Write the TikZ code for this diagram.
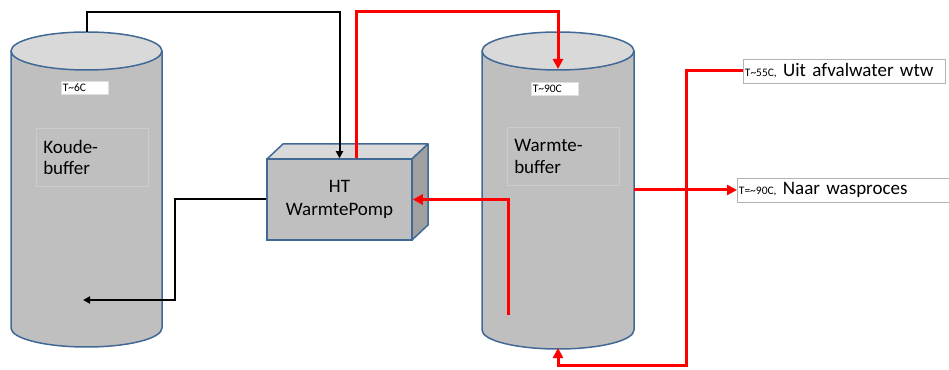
\documentclass[tikz,border=0pt]{standalone}
\usepackage{fontspec}
\setmainfont{Carlito}
\usetikzlibrary{arrows.meta,calc}

\definecolor{tankblue}{RGB}{65,105,150}
\definecolor{tankgray}{RGB}{191,191,191}
\definecolor{tanktop}{RGB}{217,217,217}
\definecolor{pumpside}{RGB}{160,160,160}
\definecolor{pipered}{RGB}{255,0,0}

\newcommand{\tsmall}[1]{{\fontsize{11.5}{13}\selectfont #1}}

\begin{document}
\begin{tikzpicture}[x=1pt, y=1pt,
  tank/.style={fill=tankgray, draw=tankblue, line width=1.5pt},
  tanklid/.style={fill=tanktop, draw=tankblue, line width=1.5pt},
  tempbox/.style={fill=white, draw=gray!25, line width=0.5pt, anchor=west, align=left,
    font=\fontsize{11.5}{13}\selectfont, inner xsep=1.5pt, inner ysep=0pt, text width=44pt, minimum height=13pt},
  namebox/.style={draw=tankgray!80!white, line width=0.5pt, anchor=north west, align=left,
    font=\fontsize{19}{21.5}\selectfont, inner xsep=7pt, inner ysep=8pt, text width=98pt, minimum height=58pt},
  flowbox/.style={fill=white, draw=gray!60, line width=0.8pt, anchor=west, align=left,
    font=\fontsize{19}{21}\selectfont, inner xsep=1.5pt, inner ysep=0pt, minimum height=24pt},
  coldpipe/.style={draw=black, line width=2pt, -{Triangle[length=7pt,width=7pt]}},
  hotpipe/.style={draw=pipered, line width=3pt, -{Triangle[length=10pt,width=10pt]}}
]
  \useasboundingbox (0,0) rectangle (949,369);

  % Koudebuffer (left tank)
  \draw[tank] (11,318) -- (11,41) arc[start angle=180, end angle=360, x radius=75.5, y radius=19] -- (162,318);
  \draw[tanklid] (86.5,318) ellipse[x radius=75.5, y radius=19];
  \node[tempbox] (kt) at (61,281.5) {T\textasciitilde6C};
  \node[namebox] (kname) at (36,241) {Koude-\\buffer};

  % Warmtebuffer (right tank)
  \draw[tank] (482,318) -- (482,39) arc[start angle=180, end angle=360, x radius=76, y radius=19] -- (634,318);
  \draw[tanklid] (558,318) ellipse[x radius=76, y radius=19];
  \node[tempbox] (wt) at (531,280) {T\textasciitilde90C};
  \node[namebox] (wname) at (507,242) {Warmte-\\buffer};

  % HT warmtepomp (box)
  \draw[fill=tanktop, draw=tankblue, line width=1.5pt, line join=round] (267,210) -- (283,225) -- (428,225) -- (412,210) -- cycle;
  \draw[fill=pumpside, draw=tankblue, line width=1.5pt, line join=round] (412,210) -- (428,225) -- (428,144) -- (412,129) -- cycle;
  \node[fill=tankgray, draw=tankblue, line width=1.5pt, minimum width=145pt, minimum height=81pt,
    align=center, font=\fontsize{19}{23}\selectfont] (hp) at (339.5,169.5) {HT\\WarmtePomp};

  % Labels right
  \node[flowbox, text width=199pt] (uit) at (743,298) {\tsmall{T\textasciitilde55C, }Uit afvalwater wtw};
  \node[flowbox, text width=215pt] (naar) at (737,179) {\tsmall{T=\textasciitilde90C, }Naar wasproces};

  % Pipe ends
  \coordinate (kTop) at (86.5,337);
  \coordinate (kBend) at (175,69);
  \coordinate (kIn) at (83,69);
  \coordinate (hpOut) at ($(hp.north)+(17,0)$);
  \coordinate (wTop) at (558,300);
  \coordinate (wOut) at (508,54);
  \coordinate (wBot) at (558,21);
  \coordinate (wR) at (634,0);

  % Cold circuit
  \draw[coldpipe] (kTop) -- ++(0,20) -| (hp.north);
  \draw[coldpipe] (hp.west) -| (kBend) -- (kIn);

  % Hot circuit
  \draw[hotpipe] (hpOut) -- ++(0,147) -| (wTop);
  \draw[hotpipe] (wOut) |- (hp.east);
  \draw[hotpipe] (naar.west -| wR) -- (naar.west);
  \draw[hotpipe] (uit.west) -| (686,4) -| (wBot);
\end{tikzpicture}
\end{document}
